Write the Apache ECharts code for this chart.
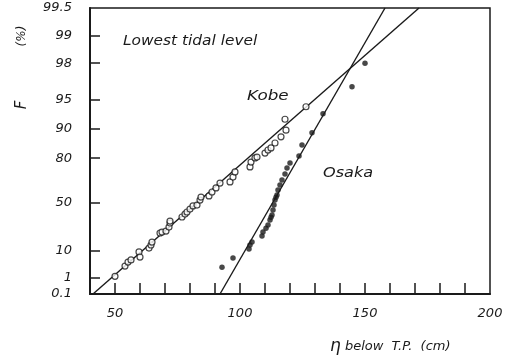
<!DOCTYPE html>
<html>
<head>
<meta charset="utf-8">
<script src="https://cdn.jsdelivr.net/npm/echarts@6/dist/echarts.min.js"></script>
<style>html,body{margin:0;padding:0;background:#fff;}#c{width:516px;height:363px;}</style>
</head>
<body>
<div id="c"></div>
<script>
// ---- data (F in %, eta in cm) ----
var yTickLabels = [0.1, 1, 10, 50, 80, 90, 95, 98, 99, 99.5];
var yTickMarks = [1, 10, 50, 80, 90, 95, 98, 99];
var xTickMarks = [50, 60, 70, 80, 90, 100, 110, 120, 130, 140, 150, 160, 170, 180, 190];
var xTickLabels = [50, 100, 150, 200];

var kobeX = [50, 54, 55.2, 56.4, 59.6, 60, 63.6, 64.4, 64.8, 68, 68.8, 70.4, 71.6, 72, 72, 76.8, 78, 78.8, 80, 81.2, 82.8, 84, 84.4, 87.6, 88.8, 90.4, 92, 96, 97.2, 98, 104, 104.4, 106, 106.8, 110, 111.2, 112.4, 114, 116.4, 118.4, 118, 126.4];
var kobeF = [1.2, 3.3, 4.6, 5.4, 9.2, 6.6, 11.5, 13.5, 15.6, 22.8, 23.6, 24.5, 28, 31.7, 33.5, 37.3, 40, 41.9, 44.6, 47.4, 48.2, 52.6, 55.1, 56, 59.2, 62.3, 65.8, 66.6, 69.8, 72.9, 75.7, 78.2, 80.1, 80.5, 82.2, 83.4, 84.2, 85.9, 87.8, 89.6, 92, 94.1];

var osakaX = [92.8, 97.2, 103.6, 104, 104.8, 108.8, 109.2, 110.4, 111.2, 112, 112.4, 112.8, 113.2, 113.6, 114, 114.4, 114.8, 115.2, 116, 116.8, 118, 118.8, 120, 123.6, 124.8, 128.8, 133.2, 144.8, 150];
var osakaF = [3.0, 6.2, 10.9, 13.5, 15.6, 20.3, 23.6, 27, 29.9, 34.5, 37, 39.1, 43.7, 48.2, 52.6, 55, 56.8, 60.7, 64.4, 67.9, 71.7, 75.1, 77.7, 81, 85.2, 88.9, 93, 96.4, 98.0];

var kobeFitX = [41.2, 171.6];
var kobeFitF = [0.1, 99.5];
var osakaFitX = [92, 158];
var osakaFitF = [0.1, 99.5];

// Gumbel probability-paper transform
function gum(p) { return -Math.log(-Math.log(p / 100)); }
function pairs(xs, fs) { return xs.map(function (x, i) { return [x, gum(fs[i])]; }); }

var ink = '#1a1a1a';
var fontFam = '"DejaVu Sans", sans-serif';

var chart = echarts.init(document.getElementById('c'), null, {renderer: 'canvas'});
chart.setOption({
  animation: false,
  backgroundColor: '#fff',
  grid: {left: 90, top: 8, right: 26, bottom: 69, show: true, borderColor: ink, borderWidth: 1.5, backgroundColor: 'transparent'},
  xAxis: {
    type: 'value', min: 40, max: 200,
    axisLine: {onZero: false, lineStyle: {color: ink, width: 2}},
    axisTick: {inside: true, length: 11, lineStyle: {color: ink, width: 1.5}, customValues: xTickMarks},
    axisLabel: {customValues: xTickLabels, color: ink, fontSize: 13, fontStyle: 'italic', fontFamily: fontFam, margin: 13},
    splitLine: {show: false}
  },
  yAxis: {
    type: 'value', min: gum(0.1), max: gum(99.5),
    axisLine: {onZero: false, lineStyle: {color: ink, width: 2}},
    axisTick: {inside: true, length: 10, lineStyle: {color: ink, width: 1.5}, customValues: yTickMarks.map(gum)},
    axisLabel: {
      customValues: yTickLabels.map(gum), color: ink, fontSize: 13, fontStyle: 'italic', fontFamily: fontFam, margin: 18,
      padding: [6, 0, 0, 0],
      formatter: function (v) {
        var best = yTickLabels[0], d = 1e9;
        yTickLabels.forEach(function (p) { var dd = Math.abs(gum(p) - v); if (dd < d) { d = dd; best = p; } });
        return String(best);
      }
    },
    splitLine: {show: false}
  },
  series: [
    {name: 'Kobe fit', type: 'line', data: pairs(kobeFitX, kobeFitF), symbol: 'none', lineStyle: {color: ink, width: 1.4}, z: 2},
    {name: 'Osaka fit', type: 'line', data: pairs(osakaFitX, osakaFitF), symbol: 'none', lineStyle: {color: ink, width: 1.4}, z: 2},
    {name: 'Kobe', type: 'scatter', data: pairs(kobeX, kobeF), symbol: 'circle', symbolSize: 6,
      itemStyle: {color: '#fff', borderColor: ink, borderWidth: 1.2}, z: 3},
    {name: 'Osaka', type: 'scatter', data: pairs(osakaX, osakaF), symbol: 'circle', symbolSize: 5.5,
      itemStyle: {color: ink}, z: 3}
  ],
  graphic: [
    {type: 'text', x: 123, y: 41, scaleX: 1.1, style: {text: 'Lowest tidal level', fill: ink, font: 'italic 14px ' + fontFam, textVerticalAlign: 'middle'}},
    {type: 'text', x: 247, y: 96, scaleX: 1.2, style: {text: 'Kobe', fill: ink, font: 'italic 14px ' + fontFam, textVerticalAlign: 'middle'}},
    {type: 'text', x: 323, y: 173, scaleX: 1.15, style: {text: 'Osaka', fill: ink, font: 'italic 14px ' + fontFam, textVerticalAlign: 'middle'}},
    {type: 'text', x: 22, y: 105, rotation: Math.PI / 2, style: {text: 'F', fill: ink, font: 'italic 15px ' + fontFam, textAlign: 'center', textVerticalAlign: 'middle'}},
    {type: 'text', x: 22, y: 36, rotation: Math.PI / 2, style: {text: '(%)', fill: ink, font: 'italic 12px ' + fontFam, textAlign: 'center', textVerticalAlign: 'middle'}},
    {type: 'text', x: 330, y: 347, style: {
      text: '{e|η} below  T.P.  (cm)', fill: ink, font: 'italic 13px ' + fontFam, textVerticalAlign: 'middle',
      rich: {e: {fontSize: 17, fontStyle: 'italic', fontFamily: fontFam, fill: ink}}
    }}
  ]
});
</script>
</body>
</html>
